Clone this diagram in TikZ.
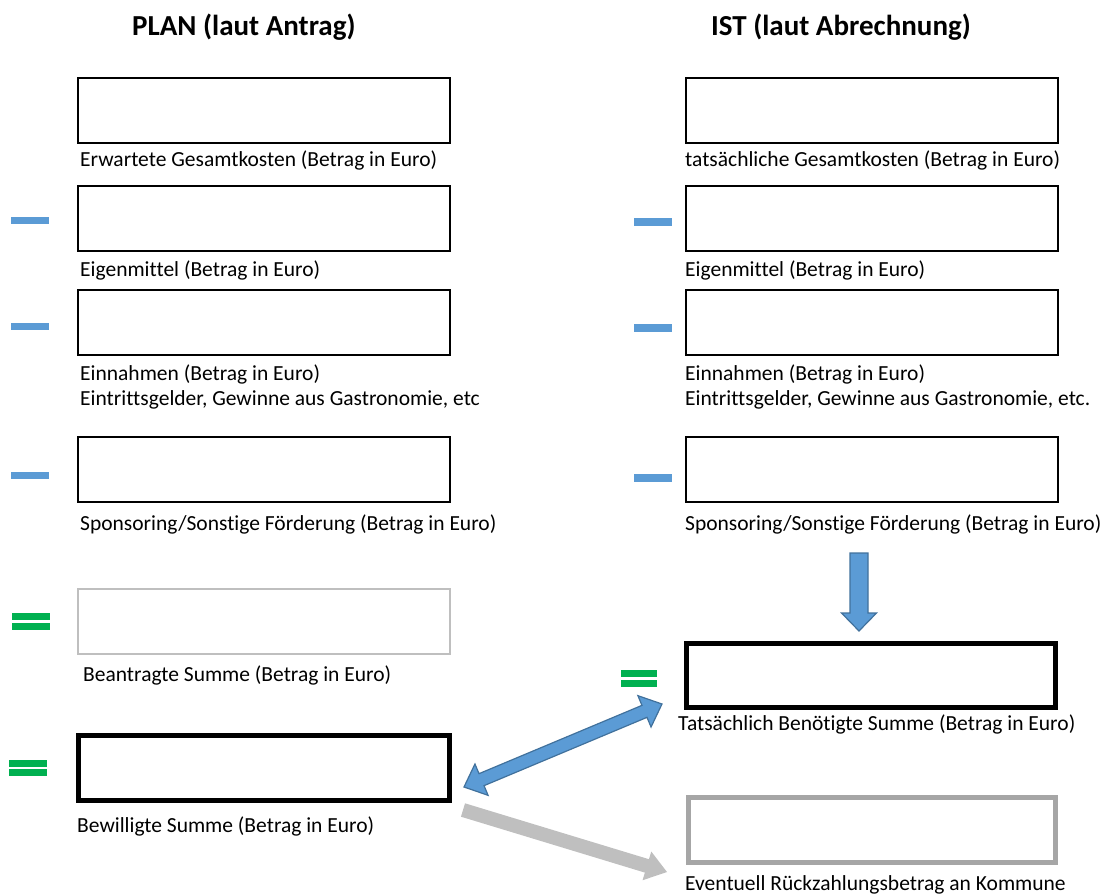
\documentclass[tikz,border=0pt]{standalone}
\usepackage{fontspec}
\setmainfont{Carlito}[Ligatures=NoCommon]
\usetikzlibrary{calc}
\definecolor{blueA}{HTML}{5B9BD5}
\definecolor{blueD}{HTML}{41719C}
\definecolor{greenE}{HTML}{00B050}
\definecolor{greyL}{HTML}{BFBFBF}
\definecolor{greyM}{HTML}{A6A6A6}
\newcommand{\singlearrow}[6]{%
  \coordinate (#1-h) at ($(#2)!#5!(#1)$);
  \path[#6] ($(#1)!#3!90:(#2)$) -- ($(#1-h)!#3!90:(#2)$) -- ($(#1-h)!#4!90:(#2)$) -- (#2)
    -- ($(#1-h)!#4!-90:(#2)$) -- ($(#1-h)!#3!-90:(#2)$) -- ($(#1)!#3!-90:(#2)$) -- cycle;}
\newcommand{\doublearrow}[6]{%
  \coordinate (#1-ha) at ($(#1)!#5!(#2)$);
  \coordinate (#1-hb) at ($(#2)!#5!(#1)$);
  \path[#6] (#1) -- ($(#1-ha)!#4!90:(#2)$) -- ($(#1-ha)!#3!90:(#2)$) -- ($(#1-hb)!#3!90:(#2)$)
    -- ($(#1-hb)!#4!90:(#2)$) -- (#2) -- ($(#1-hb)!#4!-90:(#2)$) -- ($(#1-hb)!#3!-90:(#2)$)
    -- ($(#1-ha)!#3!-90:(#2)$) -- ($(#1-ha)!#4!-90:(#2)$) -- cycle;}
\tikzset{
  box/.style={draw=black, line width=2pt, inner sep=0pt, minimum width=372pt, minimum height=65pt},
  boxthick/.style={box, line width=5pt},
  boxgrey/.style={box, draw=greyL},
  boxgreythick/.style={box, draw=greyM, line width=5pt},
  lbl/.style={anchor=base west, inner sep=0pt, font=\fontsize{21.5}{25}\selectfont},
  head/.style={anchor=base west, inner sep=0pt, font=\fontsize{29}{33}\selectfont\bfseries},
  minus/.style={fill=blueA},
  eqbar/.style={fill=greenE},
  bluearrow/.style={fill=blueA, draw=blueD, line width=1.2pt, line join=miter},
  greyarrow/.style={fill=greyL},
}
\begin{document}
\begin{tikzpicture}[x=1pt,y=-1pt]
\useasboundingbox (0,0) rectangle (1101,895);
% headings
\node[head] (hplan) at (132,35) {PLAN (laut Antrag)};
\node[head] (hist) at (711,35) {IST (laut Abrechnung)};
% left boxes
\node[box] (l1) at (264,110.5) {};
\node[box] (l2) at (264,218.5) {};
\node[box] (l3) at (264,322.5) {};
\node[box] (l4) at (264,469.5) {};
\node[boxgrey] (l5) at (264,621.5) {};
\node[boxthick, minimum width=371pt] (l6) at (264,768) {};
% right boxes
\node[box] (r1) at (872,110.5) {};
\node[box] (r2) at (872,218.5) {};
\node[box] (r3) at (872,322.5) {};
\node[box] (r4) at (872,469.5) {};
\node[boxthick, minimum width=369pt, minimum height=64pt] (r5) at (870.5,675) {};
\node[boxgreythick, minimum width=367pt] (r6) at (871.5,829.5) {};
% left labels
\node[lbl] (tl1) at (80,166) {Erwartete Gesamtkosten (Betrag in Euro)};
\node[lbl] (tl2) at (80,276) {Eigenmittel (Betrag in Euro)};
\node[lbl] (tl3) at (80,380) {Einnahmen (Betrag in Euro)};
\node[lbl] (tl3b) at (80,405) {Eintrittsgelder, Gewinne aus Gastronomie, etc};
\node[lbl] (tl4) at (80,530) {Sponsoring/Sonstige Förderung (Betrag in Euro)};
\node[lbl] (tl5) at (83,681) {Beantragte Summe (Betrag in Euro)};
\node[lbl] (tl6) at (77,832) {Bewilligte Summe (Betrag in Euro)};
% right labels
\node[lbl] (tr1) at (685,166) {tatsächliche Gesamtkosten (Betrag in Euro)};
\node[lbl] (tr2) at (685,276) {Eigenmittel (Betrag in Euro)};
\node[lbl] (tr3) at (685,380) {Einnahmen (Betrag in Euro)};
\node[lbl] (tr3b) at (685,405) {Eintrittsgelder, Gewinne aus Gastronomie, etc.};
\node[lbl] (tr4) at (685,530) {Sponsoring/Sonstige Förderung (Betrag in Euro)};
\node[lbl] (tr5) at (678,730) {Tatsächlich Benötigte Summe (Betrag in Euro)};
\node[lbl] (tr6) at (685,890) {Eventuell Rückzahlungsbetrag an Kommune};
% minus signs
\fill[minus] (11,217) rectangle (49,224);
\fill[minus] (11,323) rectangle (49,330);
\fill[minus] (11,472) rectangle (49,479);
\fill[minus] (634,218) rectangle (672,226);
\fill[minus] (634,324) rectangle (672,332);
\fill[minus] (634,474) rectangle (672,482);
% equals signs
\fill[eqbar] (12,613) rectangle (50,620);
\fill[eqbar] (12,623) rectangle (50,630);
\fill[eqbar] (9,760) rectangle (47,767);
\fill[eqbar] (9,769) rectangle (47,776);
\fill[eqbar] (621,670) rectangle (657,677);
\fill[eqbar] (621,680) rectangle (657,687);
% block arrows
\coordinate (dA) at (859,553);
\coordinate (dB) at (859,631);
\singlearrow{dA}{dB}{9pt}{17.5pt}{18pt}{bluearrow}
\coordinate (bA) at (464,787);
\coordinate (bB) at (662,704);
\doublearrow{bA}{bB}{6.5pt}{17pt}{19pt}{bluearrow}
\coordinate (gA) at (463,810);
\coordinate (gB) at (667,872);
\singlearrow{gA}{gB}{7pt}{15pt}{21pt}{greyarrow}
\end{tikzpicture}
\end{document}
